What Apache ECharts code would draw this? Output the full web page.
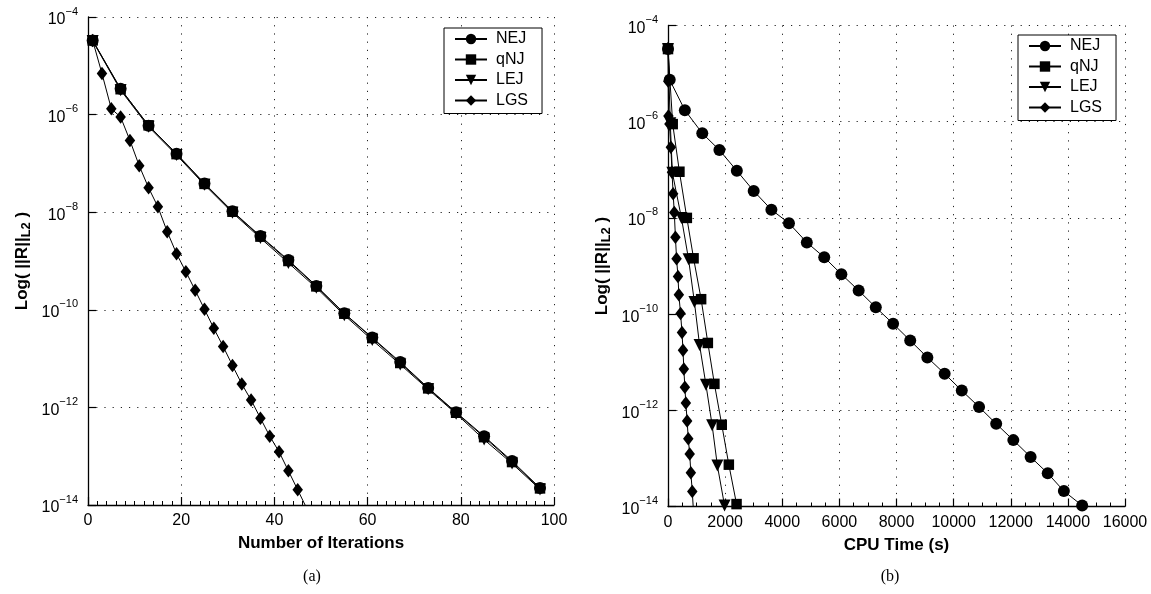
<!DOCTYPE html>
<html>
<head>
<meta charset="utf-8">
<script src="https://cdn.jsdelivr.net/npm/echarts@6/dist/echarts.min.js"></script>
<style>
  html, body { margin: 0; padding: 0; background: #fff; }
  #chart { width: 1151px; height: 594px; }
</style>
</head>
<body>
<div id="chart"></div>
<script>
// residuals are kept as log10 values

// (a) residual vs number of iterations
const iterMain = [1, 7, 13, 19, 25, 31, 37, 43, 49, 55, 61, 67, 73, 79, 85, 91, 97];
const nejIter = [-4.48, -5.47, -6.23, -6.80, -7.41, -7.98, -8.49, -8.98, -9.51, -10.07, -10.57, -11.07, -11.60, -12.10, -12.59, -13.10, -13.65];
const qnjIter = [-4.48, -5.48, -6.22, -6.81, -7.42, -7.99, -8.50, -9.00, -9.52, -10.08, -10.58, -11.09, -11.61, -12.11, -12.61, -13.12, -13.66];
const lejIter = [-4.49, -5.50, -6.25, -6.83, -7.44, -8.01, -8.53, -9.04, -9.55, -10.11, -10.62, -11.12, -11.63, -12.13, -12.66, -13.15, -13.68];
const iterLGS = [1, 3, 5, 7, 9, 11, 13, 15, 17, 19, 21, 23, 25, 27, 29, 31, 33, 35, 37, 39, 41, 43, 45, 47];
const lgsRes = [-4.48, -5.16, -5.88, -6.05, -6.53, -7.05, -7.50, -7.89, -8.40, -8.85, -9.22, -9.60, -9.99, -10.38, -10.75, -11.14, -11.52, -11.85, -12.22, -12.59, -12.91, -13.30, -13.69, -14.08];

// (b) residual vs CPU time (s)
const timeNEJ = [0, 60, 590, 1200, 1800, 2410, 3000, 3620, 4235, 4860, 5470, 6070, 6675, 7275, 7880, 8480, 9080, 9685, 10285, 10890, 11490, 12090, 12695, 13295, 13860, 14500];
const nejTime = [-4.49, -5.13, -5.76, -6.24, -6.59, -7.02, -7.44, -7.83, -8.11, -8.51, -8.82, -9.17, -9.51, -9.86, -10.20, -10.55, -10.90, -11.24, -11.59, -11.93, -12.28, -12.62, -12.97, -13.31, -13.68, -13.98];
const timeQNJ = [0, 165, 400, 660, 895, 1160, 1395, 1624, 1882, 2130, 2400];
const qnjTime = [-4.49, -6.05, -7.04, -8.00, -8.84, -9.69, -10.60, -11.45, -12.30, -13.13, -13.95];
const timeLEJ = [0, 80, 153, 470, 720, 925, 1105, 1329, 1545, 1729, 1980];
const lejTime = [-4.49, -6.03, -7.06, -8.00, -8.86, -9.75, -10.64, -11.47, -12.31, -13.15, -13.98];
const timeLGS = [0, 8, 15, 50, 100, 140, 180, 220, 260, 300, 350, 380, 440, 490, 525, 555, 590, 625, 670, 710, 760, 800, 850, 890];

const names = ['NEJ', 'qNJ', 'LEJ', 'LGS'];

const black = '#000';
const sans = '"Liberation Sans", Arial, Helvetica, sans-serif';

function pairs(xs, ys) {
  return xs.map((x, i) => [x, ys[i]]);
}

const markers = {
  NEJ: { symbol: 'circle', symbolSize: 12 },
  qNJ: { symbol: 'rect', symbolSize: 10.5 },
  LEJ: { symbol: 'triangle', symbolSize: 12, symbolRotate: 180 },
  LGS: { symbol: 'diamond', symbolSize: [10.5, 13.5] }
};

function line(name, idx, data) {
  return Object.assign({
    name: name,
    type: 'line',
    xAxisIndex: idx,
    yAxisIndex: idx,
    data: data,
    showAllSymbol: true,
    clip: true,
    lineStyle: { color: black, width: 1 },
    itemStyle: { color: black, borderWidth: 0 },
    emphasis: { disabled: true }
  }, markers[name]);
}

const axisLine = { show: true, onZero: false, lineStyle: { color: black, width: 1.3 } };
const dotted = { show: true, lineStyle: { color: '#222', width: 1, type: [1.2, 7] } };

function xAxis(idx, max, step, split, title) {
  return {
    type: 'value', gridIndex: idx, min: 0, max: max, interval: step,
    name: title, nameLocation: 'middle', nameGap: 30,
    nameTextStyle: { fontFamily: sans, fontSize: 17, fontWeight: 'bold', color: black },
    axisLine: axisLine,
    axisTick: { show: true, inside: true, length: 8, lineStyle: { color: black, width: 1.2 } },
    minorTick: { show: true, splitNumber: split, length: 4, lineStyle: { color: black, width: 1 } },
    axisLabel: { fontFamily: sans, fontSize: 16, color: black, margin: 8, formatter: v => String(v) },
    splitLine: dotted
  };
}

function yAxis(idx) {
  return {
    type: 'value', gridIndex: idx, min: -14, max: -4, interval: 2,
    name: '{b|Log( ||R||}{sub|L2}{b| )}',
    nameLocation: 'middle', nameRotate: 90, nameGap: 55,
    nameTextStyle: {
      rich: {
        b: { fontFamily: sans, fontSize: 17, fontWeight: 'bold', color: black, lineHeight: 19, verticalAlign: 'top' },
        sub: { fontFamily: sans, fontSize: 13, fontWeight: 'bold', color: black, lineHeight: 15, verticalAlign: 'bottom', padding: [6, 0, 0, 0] }
      }
    },
    axisLine: axisLine,
    axisTick: { show: true, inside: true, length: 8, lineStyle: { color: black, width: 1.2 } },
    axisLabel: {
      margin: 10,
      formatter: v => '{b|10}{sup|' + String(v).replace('-', '\u2212') + '}',
      rich: {
        b: { fontFamily: sans, fontSize: 16, color: black, lineHeight: 22, verticalAlign: 'bottom' },
        sup: { fontFamily: sans, fontSize: 11, color: black, lineHeight: 11, verticalAlign: 'top' }
      }
    },
    splitLine: dotted
  };
}

function legend(left, top) {
  return {
    orient: 'vertical', left: left, top: top, data: names,
    itemWidth: 32, itemHeight: 13, itemGap: 4.5,
    padding: [3, 14, 5, 10],
    borderColor: black, borderWidth: 1, backgroundColor: '#fff',
    selectedMode: false,
    textStyle: { fontFamily: sans, fontSize: 16, color: black, padding: [0, 0, 0, 4] }
  };
}

const chart = echarts.init(document.getElementById('chart'), null, { renderer: 'canvas' });

chart.setOption({
  animation: false,
  backgroundColor: '#fff',
  grid: [
    { left: 88, top: 17, width: 466, height: 488 },
    { left: 668, top: 25.5, width: 457, height: 481 }
  ],
  xAxis: [
    xAxis(0, 100, 20, 10, 'Number of Iterations'),
    xAxis(1, 16000, 2000, 4, 'CPU Time (s)')
  ],
  yAxis: [yAxis(0), yAxis(1)],
  legend: [legend(444, 28), legend(1018, 35)],
  series: [
    line('LGS', 0, pairs(iterLGS, lgsRes)),
    line('LEJ', 0, pairs(iterMain, lejIter)),
    line('qNJ', 0, pairs(iterMain, qnjIter)),
    line('NEJ', 0, pairs(iterMain, nejIter)),
    line('LGS', 1, pairs(timeLGS, lgsRes)),
    line('LEJ', 1, pairs(timeLEJ, lejTime)),
    line('qNJ', 1, pairs(timeQNJ, qnjTime)),
    line('NEJ', 1, pairs(timeNEJ, nejTime))
  ],
  graphic: [
    { type: 'text', x: 312, y: 577, style: { text: '(a)', font: '16px "Liberation Serif", "Times New Roman", serif', fill: black, align: 'center', verticalAlign: 'middle' } },
    { type: 'text', x: 890, y: 577, style: { text: '(b)', font: '16px "Liberation Serif", "Times New Roman", serif', fill: black, align: 'center', verticalAlign: 'middle' } }
  ]
});

window.onresize = chart.resize;
</script>
</body>
</html>
